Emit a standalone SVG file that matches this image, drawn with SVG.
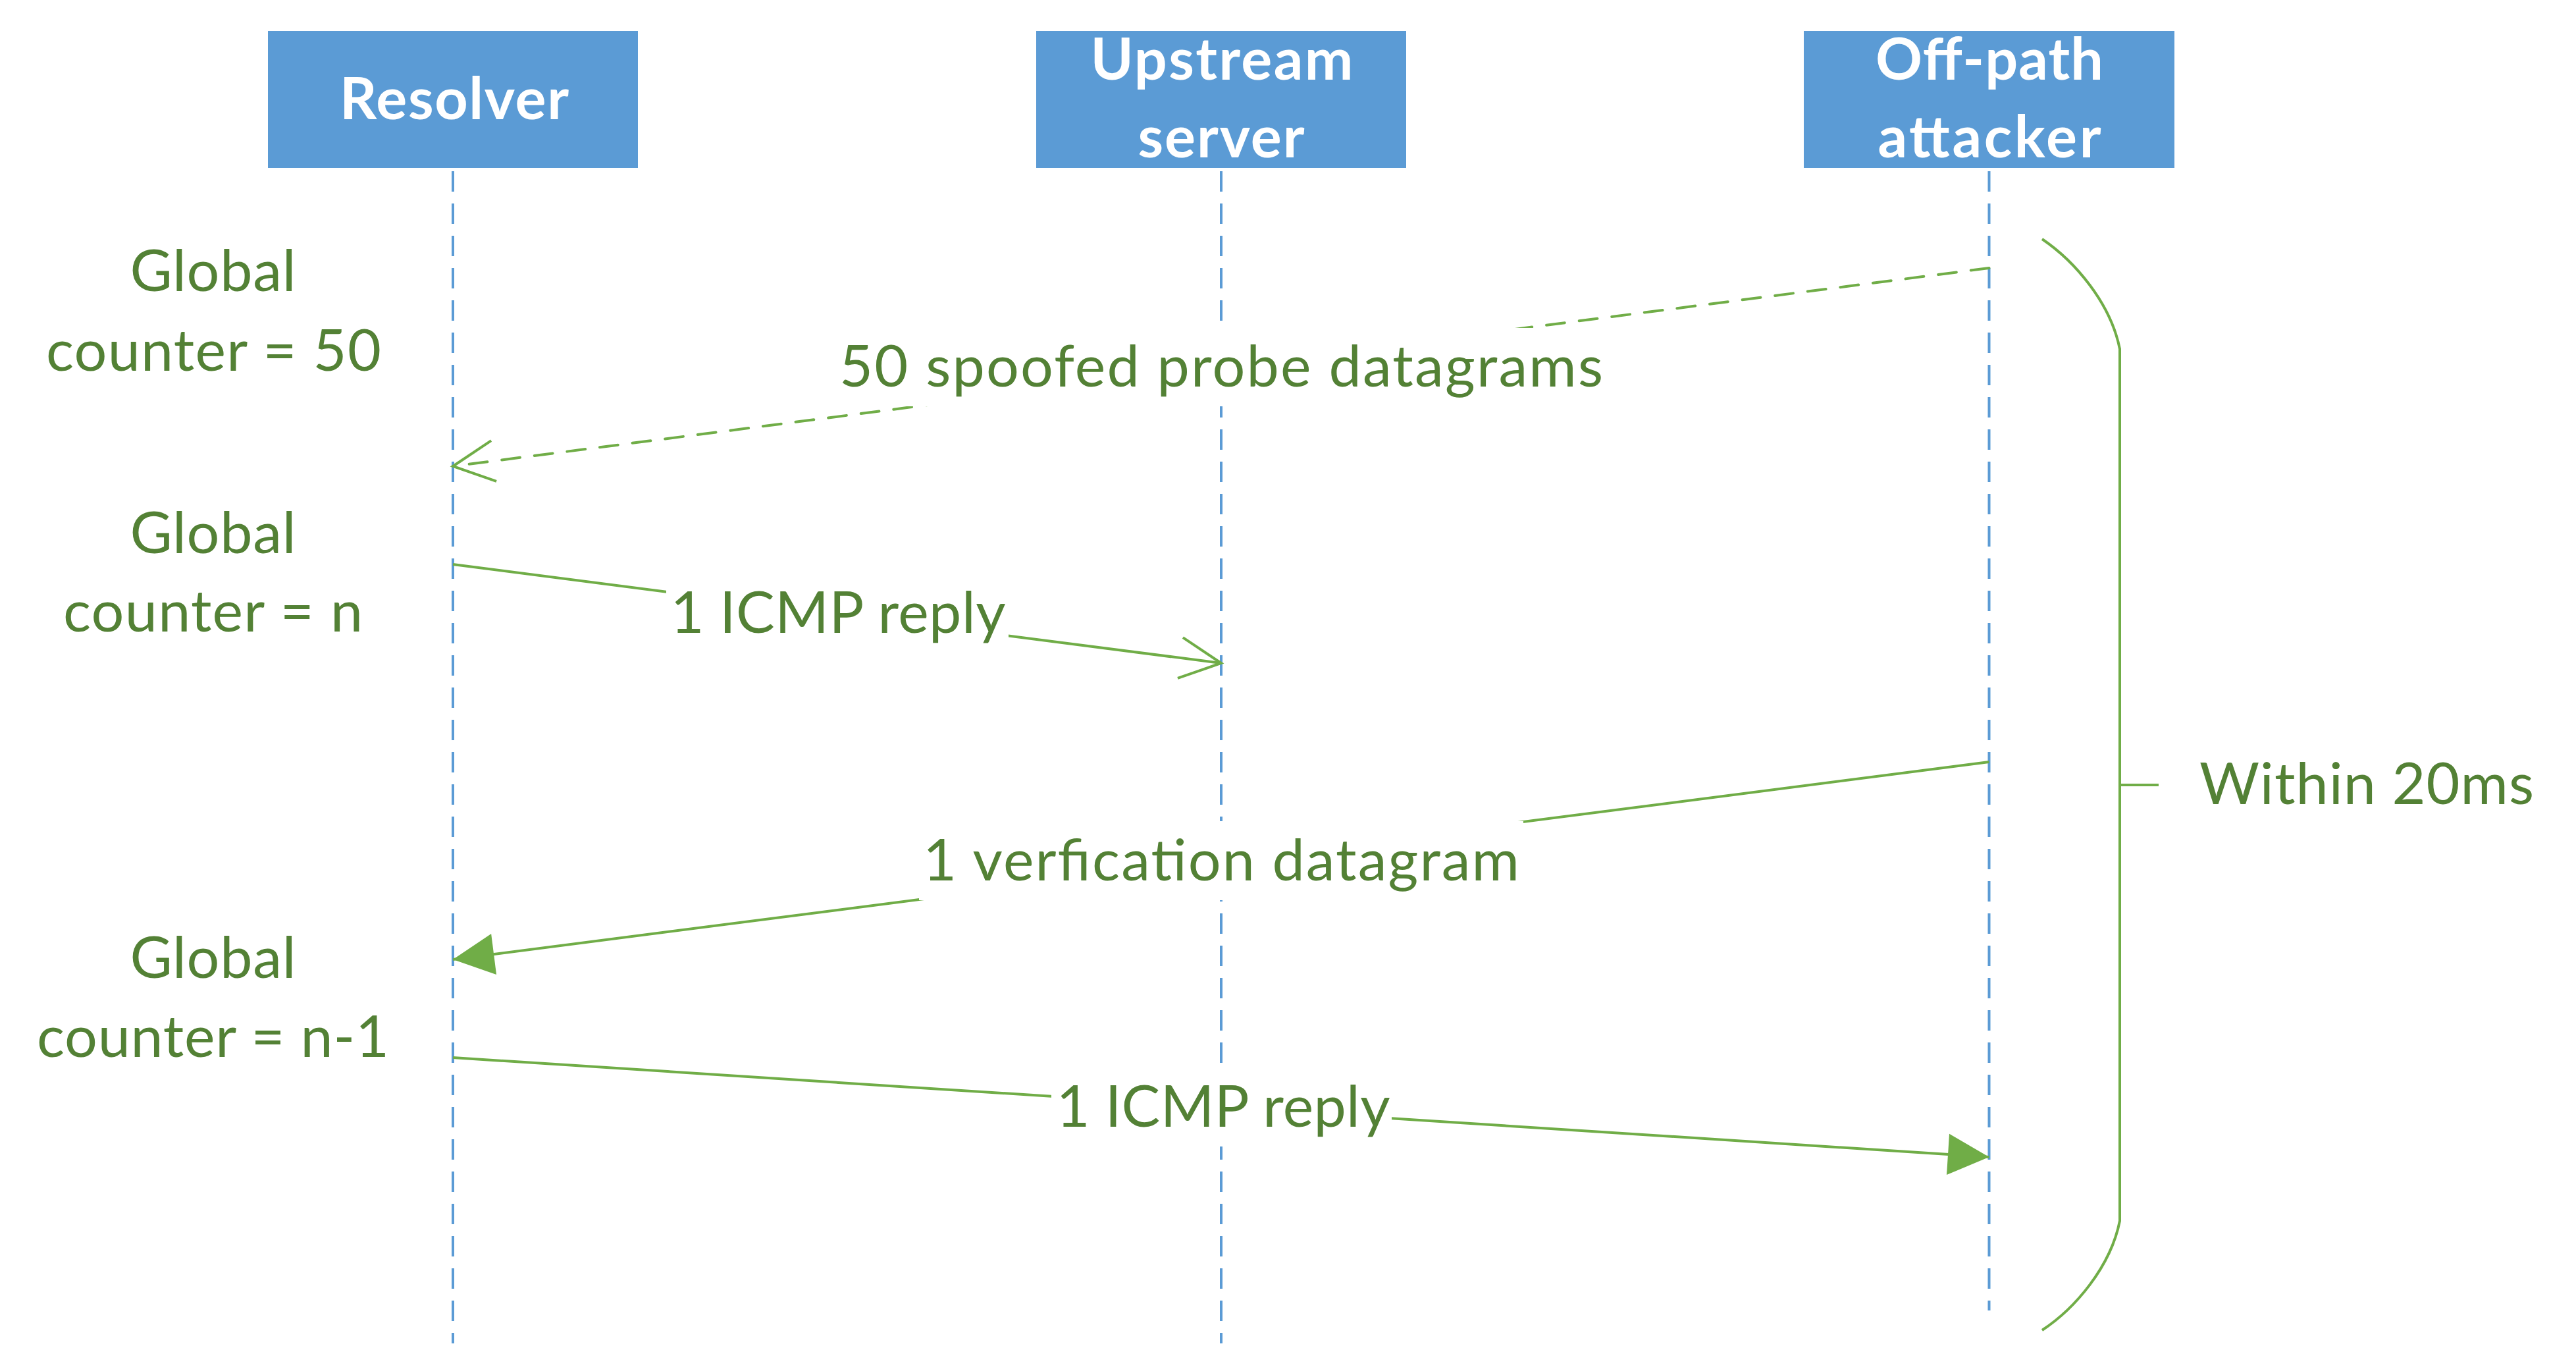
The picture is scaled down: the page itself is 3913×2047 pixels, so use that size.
<svg xmlns="http://www.w3.org/2000/svg" width="3913" height="2047" viewBox="0 0 3913 2047">
<style>
.box{fill:#5B9BD5;}
.life{fill:none;stroke:#5B9BD5;stroke-width:4;stroke-dasharray:31 18;}
.ntxt{font-family:Lato,"Liberation Sans",sans-serif;font-weight:bold;font-size:88px;fill:#FFFFFF;text-anchor:middle;}
.lbl{font-family:Lato,"Liberation Sans",sans-serif;font-size:88px;fill:#538135;text-anchor:middle;}
.msg{fill:none;stroke:#70AD47;stroke-width:4;}
.dash{stroke-dasharray:28 22;stroke-linecap:round;}
.bg{fill:#FFFFFF;}
</style>
<defs>
<marker id="openArrow" markerUnits="userSpaceOnUse" viewBox="-70 -40 80 80" refX="0" refY="0" markerWidth="80" markerHeight="80" orient="auto" overflow="visible">
<path d="M-62.6,-31.2 L0,0 L-62.6,31.2" fill="none" stroke="#70AD47" stroke-width="4" stroke-dasharray="none"/>
</marker>
<marker id="fillArrow" markerUnits="userSpaceOnUse" viewBox="-70 -40 80 80" refX="0" refY="0" markerWidth="80" markerHeight="80" orient="auto" overflow="visible">
<path d="M0,0 L-62.6,-31.2 L-62.6,31.2 Z" fill="#70AD47" stroke="none"/>
</marker>
</defs>
<rect x="0" y="0" width="3913" height="2047" fill="#FFFFFF"/>

<g id="resolver">
<path class="life" d="M688,260 L688,2040"/>
<rect class="box" x="407" y="47" width="562" height="208"/>
<text class="ntxt" x="690" y="181" textLength="348">Resolver</text>
</g>

<g id="upstream">
<path class="life" d="M1855,260 L1855,2040"/>
<rect class="box" x="1574" y="47" width="562" height="208"/>
<text class="ntxt" x="1856" y="121" textLength="399">Upstream</text>
<text class="ntxt" x="1855" y="239" textLength="253">server</text>
</g>

<g id="attacker">
<path class="life" d="M3021.5,260 L3021.5,1990"/>
<rect class="box" x="2740" y="47" width="563" height="208"/>
<text class="ntxt" x="3022" y="121" textLength="346">Off-path</text>
<text class="ntxt" x="3022" y="239" textLength="339">attacker</text>
</g>

<g id="connectors">
<g id="msg-probes">
<path class="msg dash" d="M3021.5,407 L688,708" marker-end="url(#openArrow)"/>
<rect class="bg" x="1266" y="498" width="1176" height="119"/>
<text class="lbl" x="1855" y="587" textLength="1160">50 spoofed probe datagrams</text>
</g>
<g id="msg-icmp1">
<path class="msg" d="M688,857 L1855,1007" marker-end="url(#openArrow)"/>
<rect class="bg" x="1012" y="869" width="520" height="122"/>
<text class="lbl" x="1273" y="961" textLength="509">1 ICMP reply</text>
</g>
<g id="msg-verify">
<path class="msg" d="M3021.5,1157 L688,1457" marker-end="url(#fillArrow)"/>
<rect class="bg" x="1396" y="1247" width="918" height="120"/>
<text class="lbl" x="1855" y="1336.6" textLength="906">1 verfication datagram</text>
</g>
<g id="msg-icmp2">
<path class="msg" d="M688,1606 L3021.5,1757" marker-end="url(#fillArrow)"/>
<rect class="bg" x="1597" y="1619" width="517" height="122"/>
<text class="lbl" x="1858" y="1710.7" textLength="507">1 ICMP reply</text>
</g>
</g>

<g id="counters">
<text class="lbl" x="323.5" y="442" textLength="252">Global</text>
<text class="lbl" x="324.5" y="563" textLength="509">counter = 50</text>
<text class="lbl" x="323.5" y="840" textLength="252">Global</text>
<text class="lbl" x="323.5" y="959" textLength="455">counter = n</text>
<text class="lbl" x="323.5" y="1485" textLength="252">Global</text>
<text class="lbl" x="323.5" y="1604.5" textLength="535">counter = n-1</text>
</g>

<g id="timespan">
<path class="msg" d="M3102,363 C3152,397 3206,460 3220,530 L3220,1854 C3206,1924 3152,1987 3102,2020"/>
<path class="msg" d="M3220,1192 L3279,1192"/>
<text class="lbl" x="3341" y="1221" textLength="508" style="text-anchor:start">Within 20ms</text>
</g>
</svg>
